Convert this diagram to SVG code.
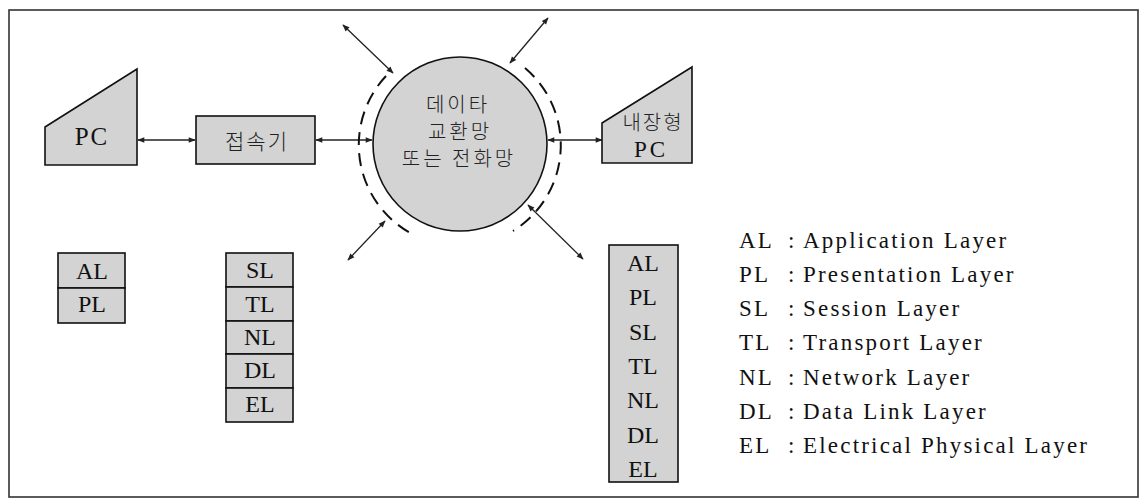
<svg xmlns="http://www.w3.org/2000/svg" width="1141" height="499" viewBox="0 0 1141 499">
<defs>
<marker id="ah" viewBox="0 0 10 10" refX="9" refY="5" markerWidth="9" markerHeight="7" markerUnits="userSpaceOnUse" orient="auto-start-reverse">
<path d="M0,1 L10,5 L0,9 Z" fill="#222"/>
</marker>
</defs>
<style>
.sh{fill:#d3d3d3;stroke:#111;stroke-width:1.6}
.t{font-family:"Liberation Serif","Noto Sans CJK KR",serif;fill:#111}
.k{font-family:"Noto Sans CJK KR","Liberation Serif",sans-serif;fill:#222;font-weight:300}
.c{stroke:#222;stroke-width:1.3;fill:none;marker-start:url(#ah);marker-end:url(#ah)}
.d{stroke:#111;stroke-width:2;fill:none;stroke-dasharray:13 8}
.lay{font-size:24px;text-anchor:middle}
.leg{font-size:23px;letter-spacing:2.2px}
</style>
<rect x="9" y="10" width="1129" height="487" fill="#fff" stroke="#333" stroke-width="1.6"/>
<g id="connectors">
<line class="c" x1="138" y1="140" x2="195" y2="140"/>
<line class="c" x1="316" y1="140" x2="372" y2="140"/>
<line class="c" x1="548" y1="140" x2="602" y2="140"/>
<line class="c" x1="343" y1="25" x2="393" y2="73"/>
<line class="c" x1="510" y1="63" x2="548" y2="18"/>
<line class="c" x1="385" y1="221" x2="348" y2="260"/>
<line class="c" x1="528" y1="205" x2="583" y2="259"/>
</g>
<g id="pc">
<polygon class="sh" points="45,127 137,69 137,165 45,165"/>
<text class="t" x="92" y="145" font-size="25" text-anchor="middle" letter-spacing="2">PC</text>
</g>
<g id="connector-device">
<rect class="sh" x="196" y="116" width="119" height="48"/>
<text class="k" x="257" y="149" font-size="21" text-anchor="middle" letter-spacing="2">접속기</text>
</g>
<g id="network">
<circle class="sh" cx="460" cy="144" r="87"/>
<path class="d" d="M386,76 A101,101 0 0 0 414,235"/>
<path class="d" d="M525,68 A101,101 0 0 1 513,231"/>
<text class="k" font-size="20" text-anchor="middle" letter-spacing="3"><tspan x="458" y="112">데이타</tspan><tspan x="460" y="139">교환망</tspan><tspan x="459" y="166">또는 전화망</tspan></text>
</g>
<g id="builtin-pc">
<polygon class="sh" points="602,123 692,67 692,163 602,163"/>
<text class="k" x="653" y="130" font-size="20" text-anchor="middle" letter-spacing="2">내장형</text>
<text class="t" x="651" y="157" font-size="23" text-anchor="middle" letter-spacing="3">PC</text>
</g>
<g id="stack-pc">
<rect class="sh" x="58" y="253" width="67" height="35"/>
<rect class="sh" x="58" y="288" width="67" height="35"/>
<text class="t lay" x="92" y="279">AL</text>
<text class="t lay" x="92" y="312">PL</text>
</g>
<g id="stack-connector">
<rect class="sh" x="226" y="253" width="67" height="34"/>
<rect class="sh" x="226" y="287" width="67" height="34"/>
<rect class="sh" x="226" y="321" width="67" height="33"/>
<rect class="sh" x="226" y="354" width="67" height="34"/>
<rect class="sh" x="226" y="388" width="67" height="34"/>
<text class="t lay" x="260" y="278">SL</text>
<text class="t lay" x="260" y="312">TL</text>
<text class="t lay" x="260" y="345">NL</text>
<text class="t lay" x="260" y="378">DL</text>
<text class="t lay" x="260" y="412">EL</text>
</g>
<g id="stack-builtin">
<rect class="sh" x="609" y="245" width="69" height="237"/>
<text class="t lay" x="643" y="271">AL</text>
<text class="t lay" x="643" y="305">PL</text>
<text class="t lay" x="643" y="340">SL</text>
<text class="t lay" x="643" y="374">TL</text>
<text class="t lay" x="643" y="408">NL</text>
<text class="t lay" x="643" y="443">DL</text>
<text class="t lay" x="643" y="477">EL</text>
</g>
<g id="legend" class="t leg">
<text x="739" y="248">AL</text><text x="788" y="248">:</text><text x="803" y="248">Application Layer</text>
<text x="739" y="282">PL</text><text x="788" y="282">:</text><text x="803" y="282">Presentation Layer</text>
<text x="739" y="316">SL</text><text x="788" y="316">:</text><text x="803" y="316">Session Layer</text>
<text x="739" y="350">TL</text><text x="788" y="350">:</text><text x="803" y="350">Transport Layer</text>
<text x="739" y="385">NL</text><text x="788" y="385">:</text><text x="803" y="385">Network Layer</text>
<text x="739" y="419">DL</text><text x="788" y="419">:</text><text x="803" y="419">Data Link Layer</text>
<text x="739" y="453">EL</text><text x="788" y="453">:</text><text x="803" y="453">Electrical Physical Layer</text>
</g>
</svg>
